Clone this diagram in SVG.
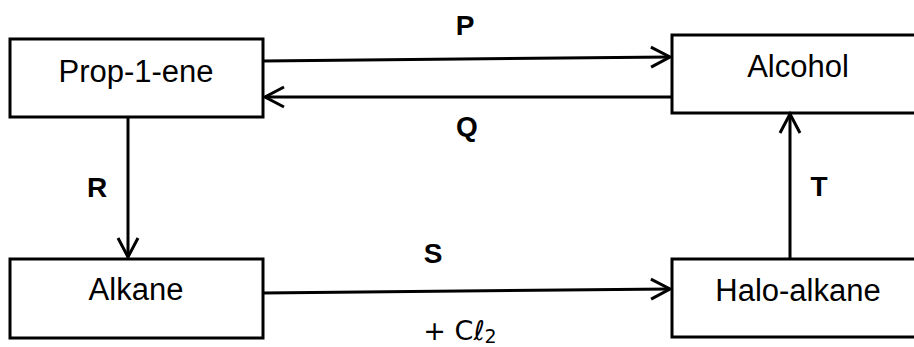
<svg xmlns="http://www.w3.org/2000/svg" width="914" height="347" viewBox="0 0 914 347">
<style>
.box{fill:#fff;stroke:#000;stroke-width:3}
.t{font-family:"Liberation Sans",Arial,sans-serif;font-size:31px;fill:#000;text-anchor:middle}
.lb{font-family:"Liberation Sans",Arial,sans-serif;font-size:28px;font-weight:bold;fill:#000;text-anchor:middle}
.c{fill:none;stroke:#000;stroke-width:3}
</style>
<defs>
<marker id="ah" markerUnits="userSpaceOnUse" orient="auto" refX="0" refY="0" markerWidth="30" markerHeight="30" viewBox="-25 -15 30 30" style="overflow:visible">
<path d="M-19,-10 L0,0 L-19,10" fill="none" stroke="#000" stroke-width="3"/>
</marker>
</defs>
<rect width="914" height="347" fill="#fff"/>
<g id="prop1ene"><rect class="box" x="10" y="39" width="253" height="78"/><text class="t" x="136" y="82">Prop-1-ene</text></g>
<g id="alcohol"><rect class="box" x="672" y="35" width="253" height="78"/><text class="t" x="798" y="77">Alcohol</text></g>
<g id="alkane"><rect class="box" x="10" y="259" width="253" height="79"/><text class="t" x="136" y="300">Alkane</text></g>
<g id="haloalkane"><rect class="box" x="672" y="259" width="253" height="78"/><text class="t" x="798" y="301">Halo-alkane</text></g>
<g id="connectors">
<line class="c" x1="263" y1="61" x2="670" y2="57" marker-end="url(#ah)"/>
<line class="c" x1="672" y1="97" x2="265" y2="97" marker-end="url(#ah)"/>
<line class="c" x1="128" y1="117" x2="128" y2="257" marker-end="url(#ah)"/>
<line class="c" x1="263" y1="293" x2="670" y2="289" marker-end="url(#ah)"/>
<line class="c" x1="790" y1="259" x2="790" y2="114" marker-end="url(#ah)"/>
</g>
<g id="labels">
<text class="lb" x="465" y="35">P</text>
<text class="lb" x="467" y="136">Q</text>
<text class="lb" x="97" y="197">R</text>
<text class="lb" x="819" y="196">T</text>
<text class="lb" x="433" y="263">S</text>
<text class="t" x="460" y="340" style="font-family:'DejaVu Sans','Liberation Sans',sans-serif;font-size:27px">+ Cℓ<tspan font-size="19" dy="3">2</tspan></text>
</g>
</svg>
